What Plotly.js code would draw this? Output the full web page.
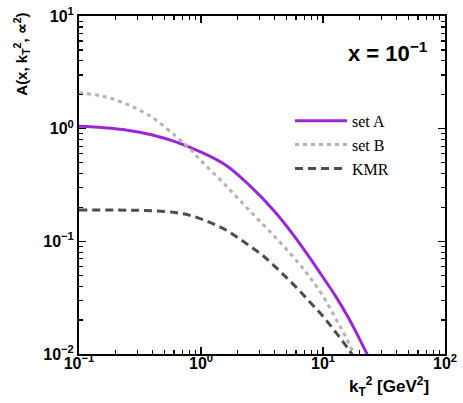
<!DOCTYPE html>
<html>
<head>
<meta charset="utf-8">
<script src="https://cdn.plot.ly/plotly-3.0.1.min.js"></script>
<style>
  html, body { margin: 0; padding: 0; background: #fff; }
  #plot { width: 463px; height: 403px; }
</style>
</head>
<body>
<div id="plot"></div>
<script>
// values (log-log axes)
let setAx = [0.1, 0.16, 0.25, 0.4, 0.63, 1, 1.6, 2.5, 4, 6.3, 10, 12.6, 16, 20, 25, 28];
let setAy = [1.05, 1.02, 0.97, 0.88, 0.76, 0.62, 0.474, 0.314, 0.185, 0.099, 0.048, 0.033, 0.0214, 0.0135, 0.0083, 0.0065];

let setBx = [0.1, 0.16, 0.25, 0.4, 0.63, 0.8, 1, 1.6, 2.5, 4, 6.3, 7.9, 10, 12.6, 16, 20];
let setBy = [2.08, 1.93, 1.64, 1.256, 0.847, 0.67, 0.52, 0.313, 0.1875, 0.1107, 0.0643, 0.0471, 0.0326, 0.021, 0.013, 0.0076];

let kmrX = [0.1, 0.25, 0.4, 0.63, 0.8, 1, 1.26, 1.6, 2, 2.5, 3.2, 4, 5, 6.3, 7.9, 10, 12.6, 16, 20];
let kmrY = [0.19, 0.189, 0.187, 0.179, 0.171, 0.158, 0.143, 0.126, 0.108, 0.0912, 0.075, 0.0603, 0.0479, 0.0372, 0.0285, 0.0216, 0.0158, 0.0112, 0.0078];

let xTickVals = [0.1, 1, 10, 100];
let xTickText = ['10<sup>\u22121</sup>', '10<sup>0</sup>', '10<sup>1</sup>', '10<sup>2</sup>'];
let yTickVals = [0.01, 0.1, 1, 10];
let yTickText = ['10<sup>\u22122</sup>', '10<sup>\u22121</sup>', '10<sup>0</sup>', '10<sup>1</sup>'];

let traceA = {
    x: setAx, y: setAy,
    name: 'set A',
    type: 'scatter', mode: 'lines',
    line: {color: '#9b27d4', width: 3, shape: 'spline'}
};
let traceB = {
    x: setBx, y: setBy,
    name: 'set B',
    type: 'scatter', mode: 'lines',
    line: {color: '#b3b3b3', width: 3, dash: '4px,4px', shape: 'spline'}
};
let traceKMR = {
    x: kmrX, y: kmrY,
    name: 'KMR',
    type: 'scatter', mode: 'lines',
    line: {color: '#4d4d4d', width: 3, dash: '8px,5px', shape: 'spline'}
};

let data = [traceA, traceB, traceKMR];

let tickFont = {family: 'Liberation Sans, Arial, sans-serif', size: 16, color: '#000', weight: 'bold'};

let axisCommon = {
    type: 'log',
    showgrid: false,
    zeroline: false,
    showline: true,
    linecolor: '#000',
    linewidth: 2,
    mirror: 'allticks',
    ticks: 'inside',
    ticklen: 7,
    tickwidth: 1.5,
    tickcolor: '#000',
    tickmode: 'array',
    tickfont: tickFont,
    minor: {ticks: 'inside', ticklen: 4, tickwidth: 1.2, tickcolor: '#000', dtick: 'D1', showgrid: false}
};

let layout = {
    width: 463,
    height: 403,
    margin: {l: 79, r: 18, t: 16, b: 49},
    paper_bgcolor: '#fff',
    plot_bgcolor: '#fff',
    showlegend: true,
    legend: {
        x: 0.5765, y: 0.740, xanchor: 'left', yanchor: 'top',
        bgcolor: 'rgba(0,0,0,0)',
        itemwidth: 52,
        font: {family: 'Liberation Serif, Times New Roman, serif', size: 16, color: '#000'}
    },
    xaxis: Object.assign({}, axisCommon, {
        range: [-1, 2],
        tickvals: xTickVals,
        ticktext: xTickText,
        ticklabelstandoff: -6
    }),
    yaxis: Object.assign({}, axisCommon, {
        range: [-2, 1],
        tickvals: yTickVals,
        ticktext: yTickText
    }),
    annotations: [
        {
            text: 'A(x, k<sub>T</sub><sup>2</sup>, \u221d<sup>2</sup>)',
            xref: 'paper', yref: 'paper', x: -0.158, y: 0.886,
            xanchor: 'center', yanchor: 'middle', textangle: -90, showarrow: false,
            font: {family: 'Liberation Sans, Arial, sans-serif', size: 15, color: '#000', weight: 'bold'}
        },
        {
            text: 'k<sub>T</sub><sup>2</sup> [GeV<sup>2</sup>]',
            xref: 'paper', yref: 'paper', x: 0.847, y: -0.0976,
            xanchor: 'center', yanchor: 'middle', showarrow: false,
            font: {family: 'Liberation Sans, Arial, sans-serif', size: 17, color: '#000', weight: 'bold'}
        },
        {
            text: 'x = 10<sup>\u22121</sup>',
            xref: 'paper', yref: 'paper', x: 0.844, y: 0.893,
            xanchor: 'center', yanchor: 'middle', showarrow: false,
            font: {family: 'Liberation Sans, Arial, sans-serif', size: 22, color: '#000', weight: 'bold'}
        }
    ]
};

Plotly.newPlot('plot', data, layout, {staticPlot: true, displayModeBar: false});
</script>
</body>
</html>
